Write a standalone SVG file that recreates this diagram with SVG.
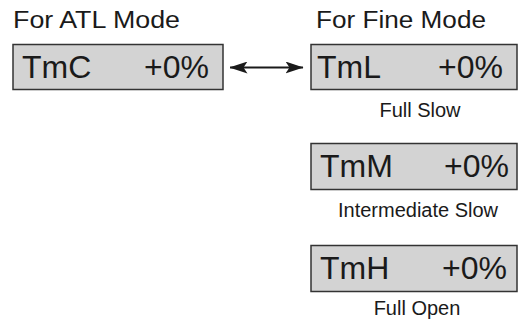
<svg xmlns="http://www.w3.org/2000/svg" width="518" height="323" viewBox="0 0 518 323">
<defs>
<style>
.box{fill:#d3d3d3;stroke:#333;stroke-width:1.5}
.head{font-family:"Liberation Sans",Arial,sans-serif;font-size:23px;fill:#1a1a1a}
.val{font-family:"Liberation Sans",Arial,sans-serif;font-size:32px;fill:#1a1a1a}
.lbl{font-family:"Liberation Sans",Arial,sans-serif;font-size:20px;fill:#1a1a1a;text-anchor:middle}
</style>
<marker id="ah" viewBox="0 0 18 12" refX="17.5" refY="6" markerWidth="18" markerHeight="12" markerUnits="userSpaceOnUse" orient="auto-start-reverse">
<path d="M0,0 L18,6 L0,12 L4,6 Z" fill="#1a1a1a"/>
</marker>
</defs>
<rect width="518" height="323" fill="#fff"/>
<text class="head" x="13" y="27.5" textLength="167" lengthAdjust="spacingAndGlyphs">For ATL Mode</text>
<text class="head" x="316" y="27.5" textLength="170" lengthAdjust="spacingAndGlyphs">For Fine Mode</text>
<g id="TmC">
<rect class="box" x="13" y="44.5" width="210" height="45"/>
<text class="val" x="22" y="77.5">TmC</text>
<text class="val" x="209" y="77.5" text-anchor="end">+0%</text>
</g>
<g id="TmL">
<rect class="box" x="311" y="44.5" width="206" height="45"/>
<text class="val" x="317" y="77.5">TmL</text>
<text class="val" x="503" y="77.5" text-anchor="end">+0%</text>
<text class="lbl" x="420" y="116.7">Full Slow</text>
</g>
<g id="TmM">
<rect class="box" x="311" y="143.5" width="206" height="46"/>
<text class="val" x="320" y="177">TmM</text>
<text class="val" x="509" y="177" text-anchor="end">+0%</text>
<text class="lbl" x="418" y="216.5">Intermediate Slow</text>
</g>
<g id="TmH">
<rect class="box" x="311" y="245.5" width="206" height="46"/>
<text class="val" x="320" y="279">TmH</text>
<text class="val" x="507" y="279" text-anchor="end">+0%</text>
<text class="lbl" x="417" y="315">Full Open</text>
</g>
<g id="connectors">
<line x1="230" y1="67.5" x2="303" y2="67.5" stroke="#1a1a1a" stroke-width="2" marker-start="url(#ah)" marker-end="url(#ah)"/>
</g>
</svg>
